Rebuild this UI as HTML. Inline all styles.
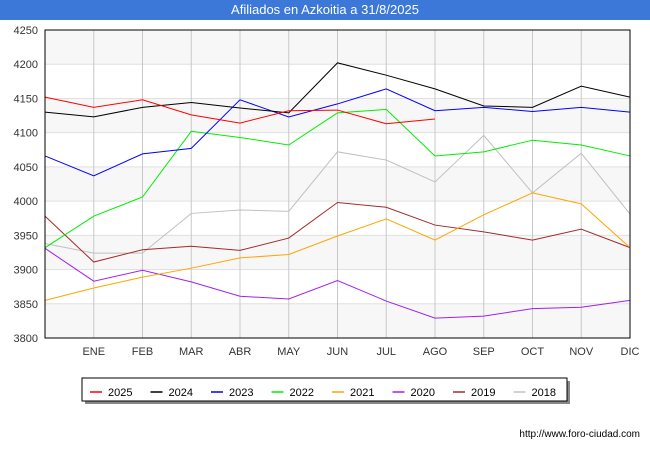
<!DOCTYPE html>
<html><head><meta charset="utf-8"><style>
body{margin:0;width:650px;height:450px;background:#fff;font-family:"Liberation Sans","DejaVu Sans",sans-serif;overflow:hidden}
#title{position:absolute;left:0;top:0;width:650px;height:20px;background:#3b78d8;color:#fff;font-size:13px;line-height:20px;text-align:center}
</style></head><body>
<div id="title">Afiliados en Azkoitia a 31/8/2025</div>
<svg id="chart" width="650" height="450" style="position:absolute;left:0;top:0"></svg>
<script>
const months=["","ENE","FEB","MAR","ABR","MAY","JUN","JUL","AGO","SEP","OCT","NOV","DIC"];
const yTicks=[3800,3850,3900,3950,4000,4050,4100,4150,4200,4250];
const seriesNames=["2025","2024","2023","2022","2021","2020","2019","2018"];
const seriesColors=["#ff0000","#000000","#0000ff","#00ee00","#ffa500","#a020f0","#a52a2a","#c0c0c0"];
const s2025=[4152,4137,4148,4126,4114,4132,4133,4113,4120];
const s2024=[4130,4123,4137,4144,4136,4129,4202,4184,4164,4139,4137,4168,4152];
const s2023=[4066,4037,4069,4077,4148,4123,4142,4164,4132,4137,4131,4137,4130];
const s2022=[3932,3978,4006,4102,4093,4082,4129,4134,4066,4072,4089,4082,4066];
const s2021=[3855,3873,3889,3902,3917,3922,3949,3974,3943,3980,4012,3996,3932];
const s2020=[3931,3883,3899,3882,3861,3857,3884,3854,3829,3832,3843,3845,3855];
const s2019=[3978,3911,3929,3934,3928,3946,3998,3991,3965,3955,3943,3959,3932];
const s2018=[3938,3924,3924,3982,3987,3985,4072,4060,4028,4096,4012,4070,3981];
const allSeries=[s2025,s2024,s2023,s2022,s2021,s2020,s2019,s2018];
const L=45,R=630,T=30,B=338,yMin=3800,yMax=4250;
const xs=i=>L+i*(R-L)/(months.length-1);
const ys=v=>B-(v-yMin)*(B-T)/(yMax-yMin);
const svg=document.getElementById('chart');const NS="http://www.w3.org/2000/svg";
function mk(t,a,p){const e=document.createElementNS(NS,t);for(const k in a)e.setAttribute(k,a[k]);(p||svg).appendChild(e);return e;}
for(let i=0;i<yTicks.length-1;i++){
 if(i%2==0){const r=mk('rect',{x:L,y:ys(yTicks[i+1]),width:R-L,height:ys(yTicks[i])-ys(yTicks[i+1]),fill:'#f7f7f7'});
 
 }
}
yTicks.forEach(v=>{const l=mk('line',{x1:L,x2:R,y1:ys(v),y2:ys(v),stroke:'#e0e0e0'});
 
 
 const t=mk('text',{x:L-7,y:ys(v)+4,'text-anchor':'end','font-size':'11',fill:'#333'});t.textContent=v;
 
 });
months.forEach((m,i)=>{if(i>0){const l=mk('line',{x1:xs(i),x2:xs(i),y1:T,y2:B,stroke:'#c8c8c8'});
 
 
 const t=mk('text',{x:xs(i),y:B+17,'text-anchor':'middle','font-size':'11',fill:'#333'});t.textContent=m;
 
 }});
for(let k=allSeries.length-1;k>=0;k--){
 const p=mk('polyline',{points:allSeries[k].map((v,i)=>xs(i)+','+ys(v)).join(' '),fill:'none',stroke:seriesColors[k],'stroke-width':1});
 
 
}
const fr=mk('rect',{x:L,y:T,width:R-L,height:B-T,fill:'none',stroke:'#000'});


const lg=mk('g',{});


mk('rect',{x:85,y:381,width:485,height:23,fill:'#888'},lg);
mk('rect',{x:82,y:378,width:485,height:23,fill:'#fff',stroke:'#000'},lg);
seriesNames.forEach((n,k)=>{const x0=90+k*60.5;
 const e=mk('g',{},lg);
 
 
 mk('line',{x1:x0,x2:x0+12,y1:392,y2:392,stroke:seriesColors[k],'stroke-width':1.5},e);
 const t=mk('text',{x:x0+18,y:396,'font-size':'11',fill:'#000'},e);t.textContent=n;});
const u=mk('text',{x:640,y:437,'text-anchor':'end','font-size':'10',fill:'#000'});u.textContent='http://www.foro-ciudad.com';


</script>
</body></html>
